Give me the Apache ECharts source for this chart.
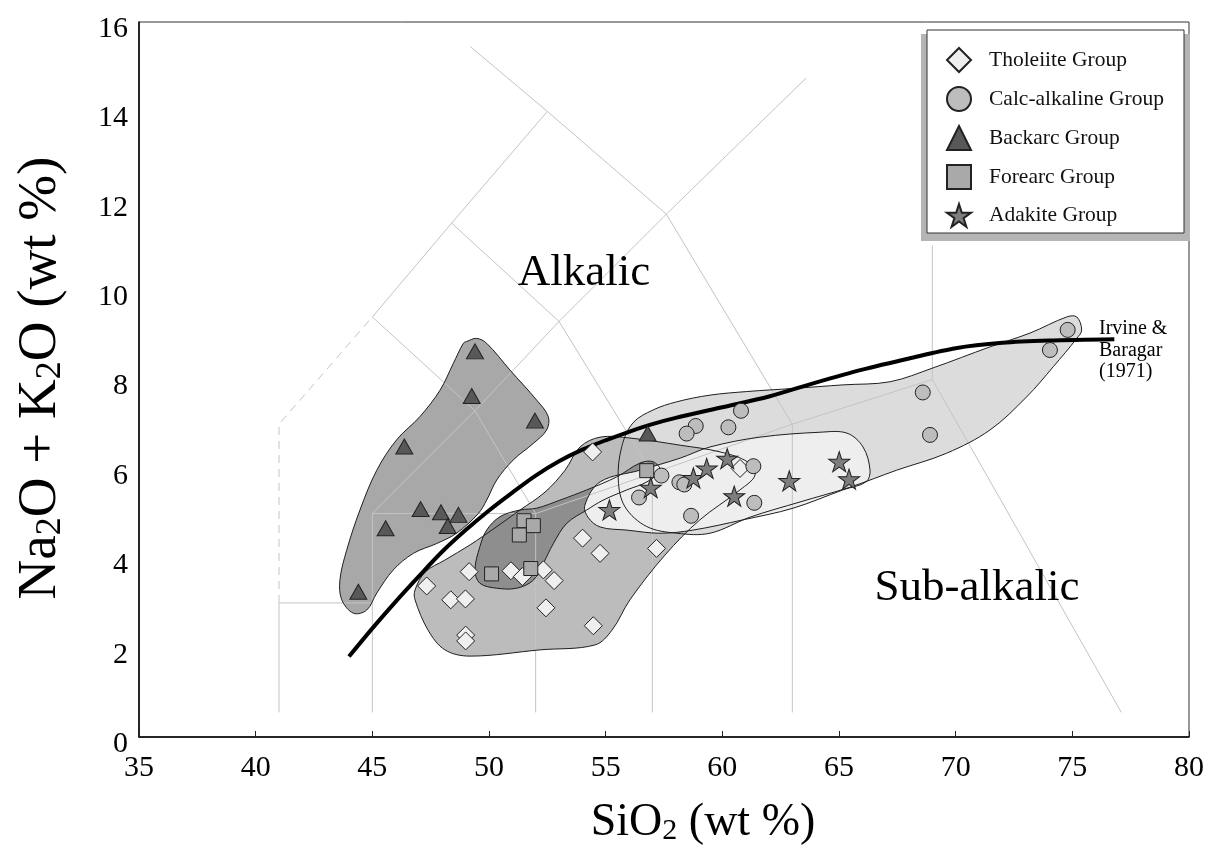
<!DOCTYPE html>
<html>
<head>
<meta charset="utf-8">
<script src="https://cdn.jsdelivr.net/npm/echarts@6/dist/echarts.min.js"></script>
<style>
  html, body { margin: 0; padding: 0; background: #ffffff; }
  #chart { width: 1211px; height: 855px; }
</style>
</head>
<body>
<div id="chart"></div>
<script>
// ---- Sample compositions: [SiO2 wt%, Na2O+K2O wt%] ----
const THOLEIITE = [[54.44,6.38],[54.01,4.45],[54.76,4.11],[57.18,4.22],[60.76,6.01],[49.15,3.70],
  [50.94,3.72],[51.43,3.59],[52.33,3.74],[52.79,3.50],[47.33,3.38],[48.36,3.07],[48.99,3.09],
  [52.44,2.89],[54.47,2.49],[49.00,2.28],[49.00,2.15]];
const CALC_ALKALINE = [[60.80,7.30],[58.86,6.96],[58.47,6.79],[60.26,6.93],[57.39,5.85],[58.16,5.70],
  [58.37,5.65],[56.43,5.36],[61.33,6.06],[61.37,5.24],[58.66,4.95],[74.80,9.11],[74.04,8.66],
  [68.59,7.71],[68.90,6.76]];
const BACKARC = [[49.40,8.63],[49.26,7.63],[51.97,7.08],[46.37,6.50],[47.07,5.10],[47.94,5.03],
  [48.69,4.97],[48.23,4.72],[45.57,4.67],[44.40,3.25],[56.80,6.79]];
const FOREARC = [[51.50,4.84],[51.90,4.73],[51.30,4.52],[50.11,3.65],[51.79,3.77],[56.76,5.96]];
const ADAKITE = [[55.16,5.08],[56.93,5.58],[58.76,5.80],[59.33,6.01],[60.21,6.23],[60.51,5.39],
  [62.87,5.73],[65.01,6.16],[65.43,5.77]];

// ---- Group envelopes (closed outlines) ----
const BACKARC_ENV = [[49.04,8.85],[49.47,8.92],[49.90,8.81],[50.90,8.21],[52.04,7.54],[52.54,7.17],
  [52.47,6.87],[51.90,6.57],[51.04,6.20],[50.33,5.75],[49.90,5.30],[49.54,5.00],[48.61,4.56],
  [47.76,4.33],[46.76,4.11],[45.90,3.74],[45.19,3.22],[44.76,2.84],[44.19,2.77],[43.69,3.07],
  [43.61,3.51],[43.90,4.18],[44.47,5.08],[45.19,5.97],[46.04,6.65],[47.04,7.17],[47.90,7.76],
  [48.47,8.36],[48.90,8.81]];
const THOLEIITE_ENV = [[46.83,3.29],[47.26,3.69],[48.11,3.96],[49.19,4.30],[50.26,4.68],[51.33,5.08],
  [52.40,5.48],[53.26,5.97],[53.90,6.49],[54.76,6.71],[56.04,6.69],[58.19,6.53],[59.90,6.38],
  [61.10,6.15],[61.40,5.86],[60.76,5.53],[59.04,4.86],[57.54,4.07],[56.04,3.07],[55.27,2.39],
  [54.54,2.06],[52.19,1.95],[49.19,1.81],[48.11,1.95],[47.39,2.39],[46.83,3.07]];
const FOREARC_ENV = [[49.61,4.26],[49.90,4.63],[50.47,4.93],[51.33,5.08],[52.04,5.12],[53.04,5.30],
  [54.19,5.53],[55.47,5.82],[56.47,6.13],[57.03,6.16],[57.33,5.97],[56.77,5.71],[55.91,5.53],
  [54.89,5.30],[54.19,5.08],[53.33,4.78],[52.76,4.33],[52.33,3.89],[51.90,3.51],[51.19,3.33],
  [50.33,3.33],[49.61,3.44],[49.40,3.74]];
const CALC_ENV = [[56.17,7.03],[57.04,7.32],[58.04,7.50],[59.47,7.65],[61.04,7.73],[63.04,7.80],
  [65.18,7.88],[67.19,7.95],[69.03,8.26],[71.47,8.73],[73.19,9.04],[74.76,9.40],[75.19,9.40],
  [75.40,9.11],[75.19,8.92],[74.19,8.29],[73.04,7.61],[71.47,6.87],[69.61,6.35],[67.47,5.97],
  [65.47,5.59],[63.33,5.26],[61.19,4.92],[59.47,4.56],[58.04,4.56],[56.76,4.71],[55.83,5.15],
  [55.54,5.75],[55.69,6.50]];
const ADAKITE_ENV = [[54.11,5.19],[54.76,5.71],[56.47,5.97],[58.19,6.24],[59.47,6.49],[61.61,6.71],
  [64.19,6.82],[65.34,6.80],[66.03,6.49],[66.33,5.97],[66.16,5.71],[65.17,5.53],[63.03,5.12],
  [60.89,4.86],[58.74,4.63],[57.33,4.56],[55.91,4.63],[54.76,4.70],[54.24,4.92]];

// ---- Irvine & Baragar (1971) alkalic / sub-alkalic divide ----
const IRVINE_BARAGAR = [[44,1.80],[45,2.43],[46,3.03],[47,3.60],[48,4.15],[49,4.63],[50,5.07],
  [51,5.47],[52,5.85],[53,6.17],[54,6.43],[55,6.64],[56,6.83],[57,7.00],[58,7.14],[60,7.38],
  [62,7.62],[64,7.93],[66,8.22],[68,8.47],[70,8.70],[72,8.82],[74,8.87],[76.8,8.90]];

// ---- TAS classification field boundaries ----
const TAS_SOLID = [
  [[41,0.55],[41,3],[45,3]],
  [[45,0.55],[45,5],[52,5],[57,5.9],[63,7],[69,8],[77.1,0.55]],
  [[52,0.55],[52,5]],
  [[57,0.55],[57,5.9]],
  [[63,0.55],[63,7]],
  [[69,8],[69,11]],
  [[45,5],[49.4,7.3],[53,9.3],[57.6,11.7],[63.6,14.75]],
  [[45,9.4],[48.4,11.5],[52.5,14]],
  [[49.2,15.45],[52.5,14],[57.6,11.7],[63,7]],
  [[45,9.4],[49.4,7.3],[52,5]],
  [[48.4,11.5],[53,9.3],[57,5.9]]
];
const TAS_DASHED = [[[41,3],[41,7],[45,9.4]]];

const GROUP_NAMES = ['Tholeiite Group','Calc-alkaline Group','Backarc Group','Forearc Group','Adakite Group'];

const SERIF = '"Liberation Serif", "DejaVu Serif", serif';
const STAR = 'path://M50,0L61.2,34.5L97.6,34.5L68.2,55.9L79.4,90.5L50,69.1L20.6,90.5L31.8,55.9L2.4,34.5L38.8,34.5Z';

function envelopeSeries(id, pts, fill, stroke, z) {
  return {
    type: 'custom', id: id, silent: true, z: z,
    coordinateSystem: 'cartesian2d',
    data: [pts[0]],
    renderItem: function (params, api) {
      return {
        type: 'polygon',
        shape: { points: pts.map(function (p) { return api.coord(p); }), smooth: 0.35 },
        style: { fill: fill, stroke: stroke, lineWidth: 1 }
      };
    }
  };
}

function boundarySeries(pts, dashed) {
  return {
    type: 'line', data: pts, symbol: 'none', silent: true, z: 3,
    lineStyle: { color: '#c4c4c4', width: 1, type: dashed ? [8, 6] : 'solid' }
  };
}

const envelopes = [
  ['calc', CALC_ENV, '#dcdcdc'],
  ['thol', THOLEIITE_ENV, '#bcbcbc'],
  ['fore', FOREARC_ENV, '#8e8e8e'],
  ['adak', ADAKITE_ENV, '#eeeeee'],
  ['back', BACKARC_ENV, '#a8a8a8']
];

const series = [];
envelopes.forEach(function (e) { series.push(envelopeSeries(e[0] + '-fill', e[1], e[2], 'none', 1)); });
TAS_SOLID.forEach(function (s) { series.push(boundarySeries(s, false)); });
TAS_DASHED.forEach(function (s) { series.push(boundarySeries(s, true)); });
envelopes.forEach(function (e) { series.push(envelopeSeries(e[0] + '-edge', e[1], 'none', '#1e1e1e', 4)); });
series.push({
  type: 'line', data: IRVINE_BARAGAR, symbol: 'none', smooth: 0.3, silent: true, z: 5,
  lineStyle: { color: '#000000', width: 4 }
});

function groupSeries(name, data, symbol, size, fill) {
  return {
    type: 'scatter', name: name, data: data, symbol: symbol, symbolSize: size, z: 6,
    itemStyle: { color: fill, borderColor: '#222222', borderWidth: 1, opacity: 1 }
  };
}
series.push(groupSeries(GROUP_NAMES[0], THOLEIITE, 'diamond', [18, 18], '#efefef'));
series.push(groupSeries(GROUP_NAMES[1], CALC_ALKALINE, 'circle', 15, '#bdbdbd'));
series.push(groupSeries(GROUP_NAMES[2], BACKARC, 'triangle', [17, 15], '#585858'));
series.push(groupSeries(GROUP_NAMES[3], FOREARC, 'rect', 14, '#a9a9a9'));
series.push(groupSeries(GROUP_NAMES[4], ADAKITE, STAR, [21, 20], '#7e7e7e'));

const chart = echarts.init(document.getElementById('chart'), null, { renderer: 'canvas' });
chart.setOption({
  animation: false,
  backgroundColor: '#ffffff',
  grid: { left: 139, right: 22, top: 22, bottom: 118, show: true, borderColor: '#333333', borderWidth: 1, backgroundColor: 'transparent' },
  xAxis: {
    type: 'value', min: 35, max: 80, interval: 5,
    axisLine: { lineStyle: { color: '#000', width: 1.5 } },
    axisTick: { show: true, inside: true, length: 6, lineStyle: { color: '#222' } },
    splitLine: { show: false },
    axisLabel: { margin: 16, fontFamily: SERIF, fontSize: 30, color: '#000' }
  },
  yAxis: {
    type: 'value', min: 0, max: 16, interval: 2,
    axisLine: { show: true, lineStyle: { color: '#000', width: 1.5 } },
    axisTick: { show: false },
    splitLine: { show: false },
    axisLabel: {
      margin: 11, color: '#000',
      formatter: function (v) { return '{v|' + v + '}'; },
      rich: { v: { fontFamily: SERIF, fontSize: 30, color: '#000', padding: [14, 0, 0, 0] } }
    }
  },
  legend: {
    orient: 'vertical', left: 941, top: 42, itemWidth: 24, itemHeight: 24, itemGap: 13,
    data: GROUP_NAMES, selectedMode: false, z: 10,
    textStyle: { fontFamily: SERIF, fontSize: 21.5, color: '#111', padding: [0, 0, 0, 13] }
  },
  graphic: [
    { type: 'rect', z: 8, shape: { x: 921, y: 34, width: 269, height: 207 }, style: { fill: '#b5b5b5' } },
    { type: 'rect', z: 9, shape: { x: 927, y: 30, width: 257, height: 203 }, style: { fill: '#ffffff', stroke: '#333333', lineWidth: 1 } },
    { type: 'text', z: 9, x: 584, y: 273, style: { text: 'Alkalic', font: '45px ' + SERIF, fill: '#000', align: 'center', verticalAlign: 'middle' } },
    { type: 'text', z: 9, x: 977, y: 588, style: { text: 'Sub-alkalic', font: '45px ' + SERIF, fill: '#000', align: 'center', verticalAlign: 'middle' } },
    { type: 'text', z: 9, x: 1099, y: 318, style: { text: 'Irvine &\nBaragar\n(1971)', font: '20px ' + SERIF, lineHeight: 21.5, fill: '#000', align: 'left', verticalAlign: 'top' } },
    { type: 'text', z: 9, x: 703, y: 823, style: {
        text: 'SiO{s|2} (wt %)', font: '46px ' + SERIF, fill: '#000', align: 'center', verticalAlign: 'middle',
        rich: { s: { font: '30px ' + SERIF, fill: '#000', verticalAlign: 'bottom', padding: [14, 0, 0, 0] } } } },
    { type: 'text', z: 9, x: 41, y: 378, rotation: Math.PI / 2, style: {
        text: 'Na{s|2}O + K{s|2}O (wt %)', font: '55px ' + SERIF, fill: '#000', align: 'center', verticalAlign: 'middle',
        rich: { s: { font: '36px ' + SERIF, fill: '#000', verticalAlign: 'bottom', padding: [17, 0, 0, 0] } } } }
  ],
  series: series
});
</script>
</body>
</html>
